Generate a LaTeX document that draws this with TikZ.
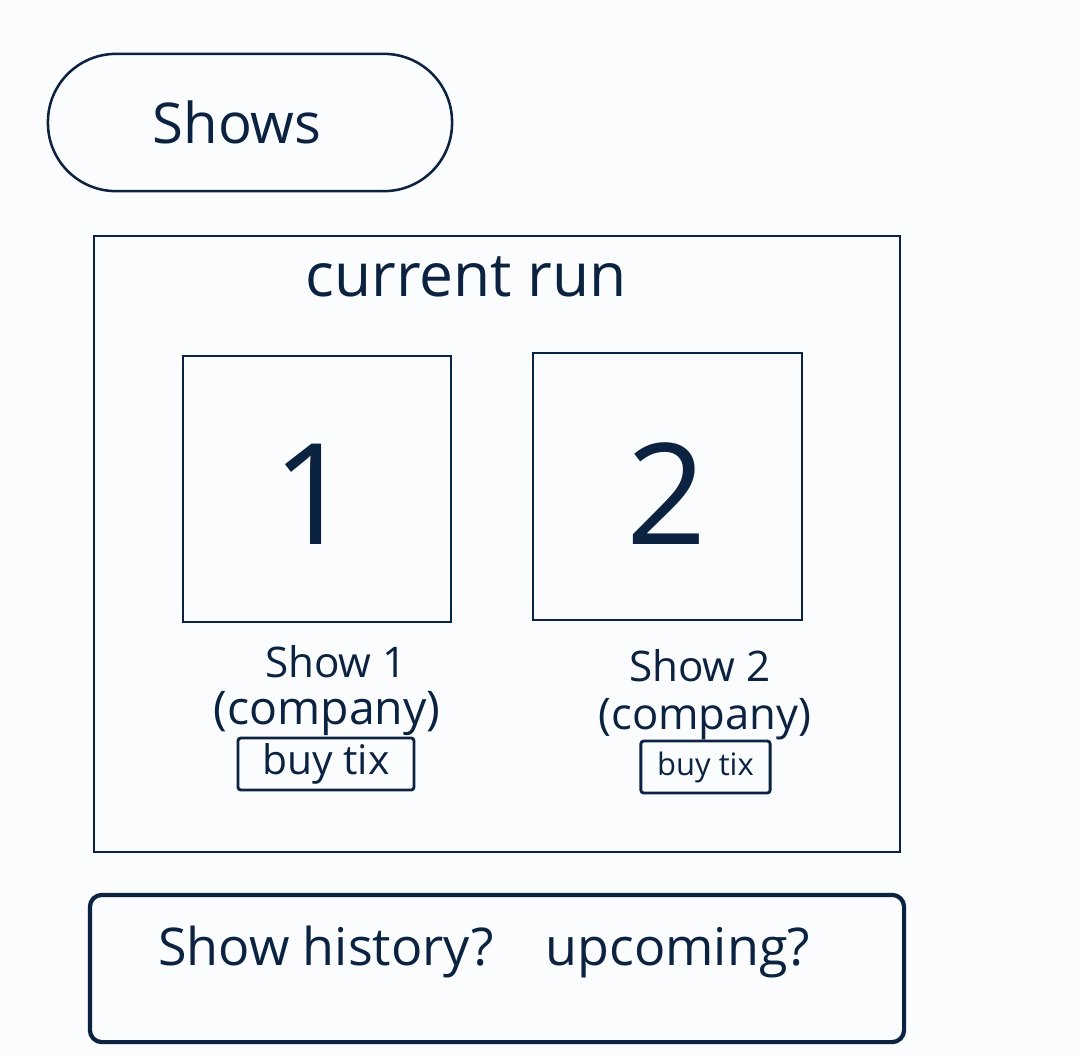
\documentclass[tikz,border=0pt]{standalone}
\usepackage{fontspec}
\setmainfont{Open Sans}
\usepackage{tikz}
\usetikzlibrary{positioning,calc}

\definecolor{ink}{HTML}{0B2340}
\definecolor{paper}{HTML}{FBFCFD}

\tikzset{
  pill/.style={draw=ink, line width=1.8pt, rounded corners=1.7cm, minimum width=10.1cm, minimum height=3.43cm},
  frame/.style={draw=ink, line width=1.4pt, minimum width=20.15cm, minimum height=15.4cm},
  tile/.style={draw=ink, line width=1.4pt, minimum width=6.72cm, minimum height=6.67cm},
  tixbox/.style={draw=ink, line width=2pt, rounded corners=2pt},
  footbox/.style={draw=ink, line width=3pt, rounded corners=0.3cm, minimum width=20.35cm, minimum height=3.68cm},
  label/.style={text=ink, inner sep=0pt}
}

\begin{document}
\begin{tikzpicture}[x=0.025cm, y=-0.025cm]
% Page
\fill[paper] (0,0) rectangle (1080,1055);
\useasboundingbox (0,0) rectangle (1080,1055);

% Title pill
\node[pill] (showsbtn) at (250,122.5) {};
\node[label, font=\fontsize{40}{44}\selectfont] (showstxt) at (237,122) {Shows};

% Current run frame
\node[frame] (runframe) at (497,544) {};
\node[label, font=\fontsize{43}{46}\selectfont] (runtxt) at (466,277) {current run};

% Show tiles
\node[tile] (tileone) at (317,489) {};
\node[label, font=\fontsize{100}{100}\selectfont] (numone) at (313,494) {1};
\node[tile] (tiletwo) at (667.5,486.5) {};
\node[label, font=\fontsize{100}{100}\selectfont] (numtwo) at (667,494) {2};

% Show 1 details
\node[label, font=\fontsize{30}{34}\selectfont] (nameone) at (336,662) {Show 1};
\node[label, font=\fontsize{33}{36}\selectfont] (compone) at (327,713) {(company)};
\node[tixbox, minimum width=4.4cm, minimum height=1.3cm, label, font=\fontsize{29}{32}\selectfont] (tixone) at (326,764) {buy tix};

% Show 2 details
\node[label, font=\fontsize{30}{34}\selectfont] (nametwo) at (700,666) {Show 2};
\node[label, font=\fontsize{31}{34}\selectfont] (comptwo) at (705,719) {(company)};
\node[tixbox, minimum width=3.23cm, minimum height=1.3cm, label, font=\fontsize{22}{26}\selectfont] (tixtwo) at (705.5,767) {buy tix};

% Footer
\node[footbox] (histbox) at (497,968.5) {};
\node[label, font=\fontsize{37}{40}\selectfont] (histtxt) at (484,952) {Show history?\quad upcoming?};
\end{tikzpicture}
\end{document}
